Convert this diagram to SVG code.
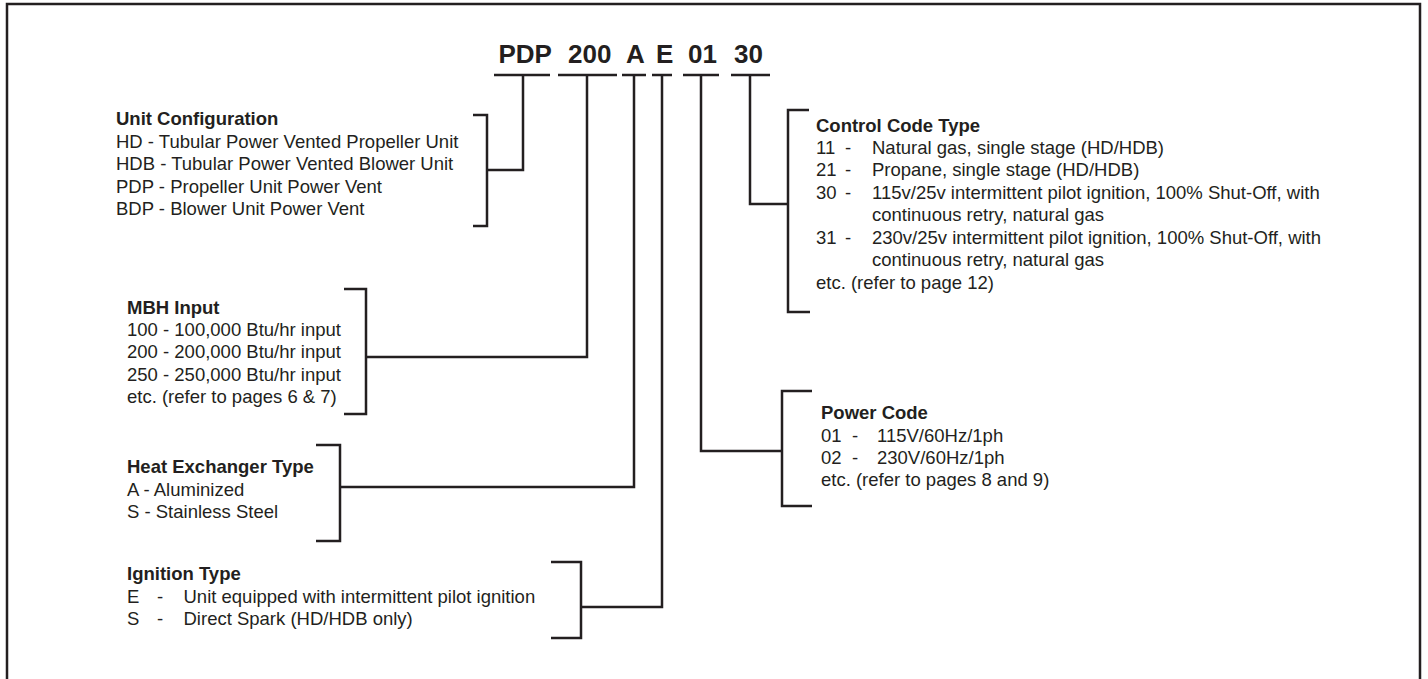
<svg xmlns="http://www.w3.org/2000/svg" width="1428" height="679" viewBox="0 0 1428 679">
<style>
.t{font-family:"Liberation Sans",Arial,Helvetica,sans-serif;font-size:18.5px;fill:#231f20}
.b{font-weight:bold}
.code{font-family:"Liberation Sans",Arial,Helvetica,sans-serif;font-size:26px;font-weight:bold;fill:#231f20}
.ln{fill:none;stroke:#231f20;stroke-width:2.5;stroke-linecap:butt;stroke-linejoin:miter}
</style>
<rect width="1428" height="679" fill="#ffffff"/>
<path class="ln" d="M7,679 V4 H1420 V679"/>

<g id="model-code">
<text class="code" y="63"><tspan x="498.5">PDP</tspan><tspan x="568">200</tspan><tspan x="626">A</tspan><tspan x="656">E</tspan><tspan x="688">01</tspan><tspan x="734">30</tspan></text>
</g>

<g id="connectors">
<path class="ln" d="M494,75 H550 M558,75 H617 M622,75 H646 M652,75 H672 M683,75 H719 M731,75 H770"/>
<path class="ln" d="M523,75 V170 H487"/>
<path class="ln" d="M587,75 V357 H366"/>
<path class="ln" d="M634,75 V487 H340"/>
<path class="ln" d="M662,75 V607 H581"/>
<path class="ln" d="M701,75 V451 H782"/>
<path class="ln" d="M750,75 V204 H788"/>
</g>

<g id="unit-configuration">
<path class="ln" d="M473,115 H487 V226 H473"/>
<text class="t b" x="116" y="125">Unit Configuration</text>
<text class="t" x="116" y="148">HD - Tubular Power Vented Propeller Unit</text>
<text class="t" x="116" y="170">HDB - Tubular Power Vented Blower Unit</text>
<text class="t" x="116" y="192.5">PDP - Propeller Unit Power Vent</text>
<text class="t" x="116" y="214.5">BDP - Blower Unit Power Vent</text>
</g>

<g id="mbh-input">
<path class="ln" d="M344,289 H366 V414 H344"/>
<text class="t b" x="127" y="313.5">MBH Input</text>
<text class="t" x="127" y="336">100 - 100,000 Btu/hr input</text>
<text class="t" x="127" y="358">200 - 200,000 Btu/hr input</text>
<text class="t" x="127" y="380.5">250 - 250,000 Btu/hr input</text>
<text class="t" x="127" y="402.5">etc. (refer to pages 6 &amp; 7)</text>
</g>

<g id="heat-exchanger-type">
<path class="ln" d="M316,445 H340 V541 H316"/>
<text class="t b" x="127" y="473">Heat Exchanger Type</text>
<text class="t" x="127" y="495.5">A - Aluminized</text>
<text class="t" x="127" y="518">S - Stainless Steel</text>
</g>

<g id="ignition-type">
<path class="ln" d="M551,562 H581 V638 H551"/>
<text class="t b" x="127" y="580">Ignition Type</text>
<text class="t" y="602.5"><tspan x="127">E</tspan><tspan x="157">-</tspan><tspan x="183.5">Unit equipped with intermittent pilot ignition</tspan></text>
<text class="t" y="625"><tspan x="127">S</tspan><tspan x="157">-</tspan><tspan x="183.5">Direct Spark (HD/HDB only)</tspan></text>
</g>

<g id="control-code-type">
<path class="ln" d="M809,110 H788 V312 H810"/>
<text class="t b" x="816" y="132">Control Code Type</text>
<text class="t" y="154"><tspan x="816">11</tspan><tspan x="845">-</tspan><tspan x="872">Natural gas, single stage (HD/HDB)</tspan></text>
<text class="t" y="176"><tspan x="816">21</tspan><tspan x="845">-</tspan><tspan x="872">Propane, single stage (HD/HDB)</tspan></text>
<text class="t" y="199"><tspan x="816">30</tspan><tspan x="845">-</tspan><tspan x="872">115v/25v intermittent pilot ignition, 100% Shut-Off, with</tspan></text>
<text class="t" x="872" y="221">continuous retry, natural gas</text>
<text class="t" y="244"><tspan x="816">31</tspan><tspan x="845">-</tspan><tspan x="872">230v/25v intermittent pilot ignition, 100% Shut-Off, with</tspan></text>
<text class="t" x="872" y="266">continuous retry, natural gas</text>
<text class="t" x="816" y="288.5">etc. (refer to page 12)</text>
</g>

<g id="power-code">
<path class="ln" d="M812,391 H782 V506 H812"/>
<text class="t b" x="821" y="418.5">Power Code</text>
<text class="t" y="441.5"><tspan x="821">01</tspan><tspan x="852">-</tspan><tspan x="877">115V/60Hz/1ph</tspan></text>
<text class="t" y="464"><tspan x="821">02</tspan><tspan x="852">-</tspan><tspan x="877">230V/60Hz/1ph</tspan></text>
<text class="t" x="821" y="486">etc. (refer to pages 8 and 9)</text>
</g>
</svg>
